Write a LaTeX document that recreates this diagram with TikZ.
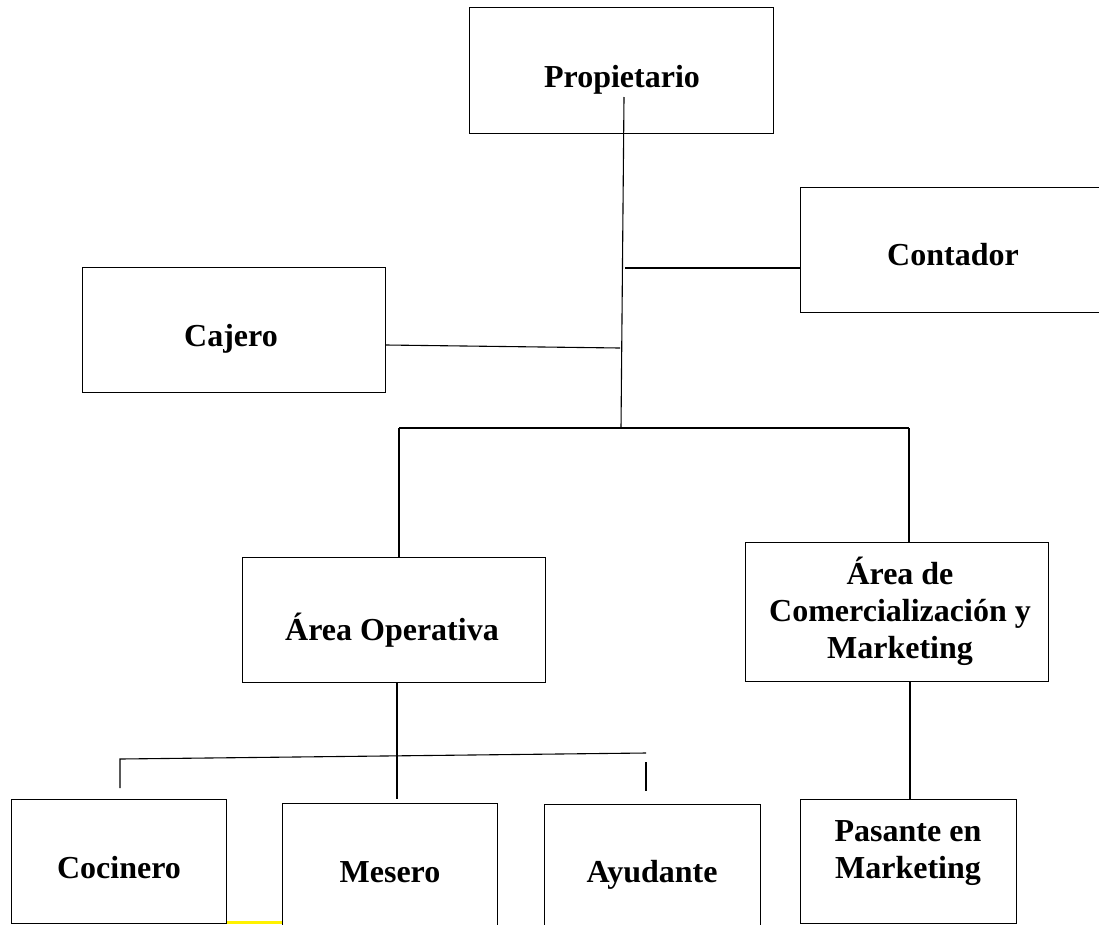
\documentclass[tikz,border=0pt]{standalone}
\usepackage{fontspec}
\setmainfont{Liberation Serif}
\begin{document}
\begin{tikzpicture}[x=1pt,y=-1pt,line width=1.1pt,
	caja/.style={draw,rectangle,inner sep=0pt,anchor=north west},
	rotulo/.style={font=\fontsize{32}{37}\selectfont\bfseries,align=center,inner sep=0pt}]
	\useasboundingbox (0,0) rectangle (1099,924);
	\clip (0,0) rectangle (1099,924);
	
	%boxes
	\node[caja,minimum width=304,minimum height=126] (propietario) at (469,7) {}; %owner
	\node[caja,minimum width=320,minimum height=125] (contador) at (800,187) {}; %accountant
	\node[caja,minimum width=303,minimum height=125] (cajero) at (82,267) {}; %cashier
	\node[caja,minimum width=303,minimum height=125] (operativa) at (242,557) {}; %operations
	\node[caja,minimum width=303,minimum height=139] (comercial) at (745,542) {}; %marketing area
	\node[caja,minimum width=215,minimum height=124] (cocinero) at (11,799) {}; %cook
	\node[caja,minimum width=215,minimum height=140] (mesero) at (282,803) {}; %waiter
	\node[caja,minimum width=216,minimum height=140] (ayudante) at (544,804) {}; %helper
	\node[caja,minimum width=216,minimum height=124] (pasante) at (800,799) {}; %intern
	
	%labels
	\node[rotulo,anchor=base] (tprop) at (622,87) {Propietario};
	\node[rotulo,anchor=base] (tcont) at (953,265) {Contador};
	\node[rotulo,anchor=base] (tcaj) at (231,346) {Cajero};
	\node[rotulo,anchor=base] (tope) at (392,640) {Área Operativa};
	\node[rotulo] (tcom) at (900,611) {Área de\\Comercialización y\\Marketing};
	\node[rotulo,anchor=base] (tcoc) at (119,878) {Cocinero};
	\node[rotulo,anchor=base] (tmes) at (390,882) {Mesero};
	\node[rotulo,anchor=base] (tayu) at (652,882) {Ayudante};
	\node[rotulo] (tpas) at (908,853) {Pasante en\\Marketing};
	
	%main line
	\coordinate (p0) at (624,97); %top, inside owner box
	\coordinate (p1) at (625,268); %accountant branch
	\coordinate (p2) at (620,348); %cashier branch
	\coordinate (p3) at (621,428); %bottom
	\coordinate (hL) at (399,428);
	\coordinate (hR) at (909,428);
	\draw (p0) -- (p3);
	\draw (p1) -- (p1 -| contador.west);
	\draw (cajero.east |- 0,345) -- (p2);
	\draw (hL) -- (hR);
	\draw (hL) -- (hL |- operativa.north); %to operations
	\draw (hR) -- (hR |- comercial.north); %to marketing
	
	%operations staff
	\coordinate (o1) at (397,799);
	\coordinate (h1) at (120,759);
	\coordinate (h2) at (646,753);
	\draw (o1 |- operativa.south) -- (o1);
	\draw (120,788) -- (h1) -- (h2);
	\draw (646,762) -- (646,791);
	
	%intern
	\coordinate (m1) at (910,681);
	\draw (m1) -- (m1 |- pasante.north);
	
	\fill[yellow] (227,921) rectangle (282,924);
\end{tikzpicture}
\end{document}
